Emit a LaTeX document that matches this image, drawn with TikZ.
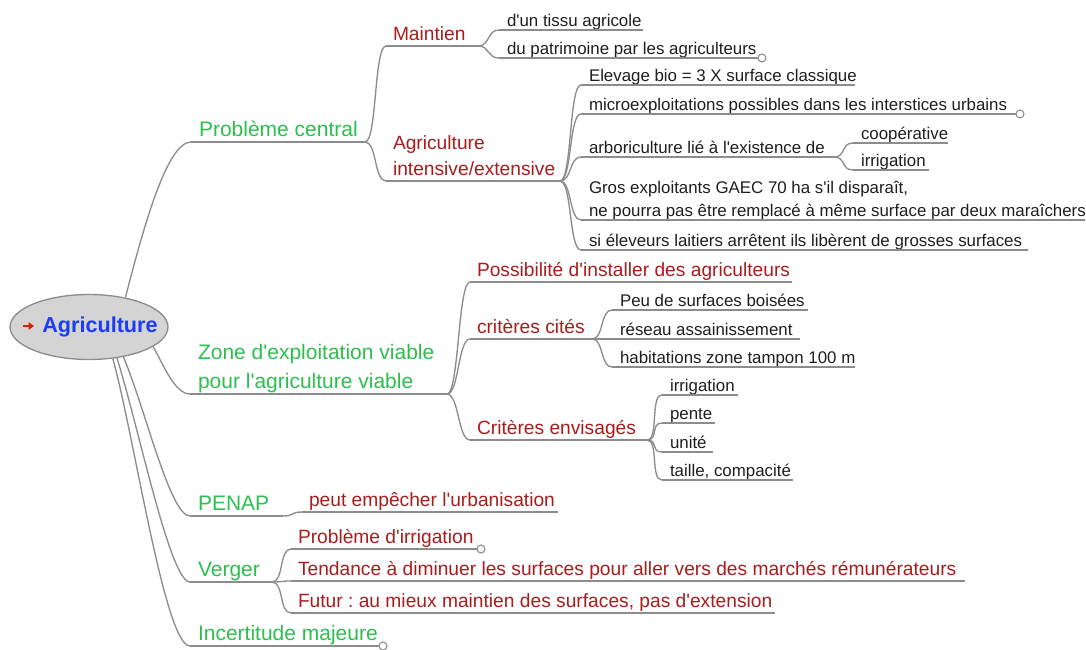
\documentclass[tikz,border=0pt]{standalone}
\usepackage{fontspec}
\setmainfont{Liberation Sans}[Ligatures=TeXOff]
\frenchspacing
\usepackage{xcolor}
\definecolor{topicgreen}{HTML}{2DBE4E}
\definecolor{subred}{HTML}{A81C1C}
\definecolor{rootblue}{HTML}{1C3CF5}
\definecolor{iconred}{HTML}{D81E05}
\definecolor{wiregrey}{HTML}{8C8C8C}
\definecolor{rootfill}{HTML}{D4D4D4}
\definecolor{leafink}{HTML}{1E1E1E}
\usepackage{tikz}
\usetikzlibrary{arrows.meta,shapes.geometric}

\begin{document}
\begin{tikzpicture}[
  x=0.75pt, y=-0.75pt,
  topic/.style={anchor=south west, inner xsep=6pt, inner ysep=4.5pt, outer sep=0pt,
    text depth=0pt, align=left, text=topicgreen, font=\fontsize{15.75}{21.75}\selectfont},
  sub/.style={anchor=south west, inner xsep=5.25pt, inner ysep=3.9pt, outer sep=0pt,
    text depth=0pt, align=left, text=subred, font=\fontsize{14.4}{19.5}\selectfont},
  leaf/.style={anchor=south west, inner xsep=6pt, inner ysep=2.6pt, outer sep=0pt,
    text depth=0pt, align=left, text=leafink, font=\fontsize{12.65}{17.25}\selectfont},
  wire/.style={draw=wiregrey, line width=1pt},
  link/.style={wire, to path={.. controls +(12,0) and +(-12,0) .. (\tikztotarget)}},
  fold/.style={draw=wiregrey, fill=white, line width=0.8pt}
]
\useasboundingbox (0,0) rectangle (1086,650);

% Root
\node[ellipse, draw=wiregrey, fill=rootfill, line width=1pt, inner sep=0pt,
      minimum width=118.5pt, minimum height=48.75pt] (root) at (89,327) {};
\node[text=rootblue, font=\fontsize{16.2}{20}\selectfont\bfseries] (roottxt) at (100,327) {Agriculture};
\draw[iconred, line width=1.4pt, -{Triangle[length=4pt,width=5.5pt]}] (23,326) -- (34,326);

% First level
\node[topic] (pc) at (191,142) {Problème central};
\draw[wire] (pc.south west) -- ++(174,0) coordinate (pc-r);
\node[topic] (zone) at (190,394) {Zone d'exploitation viable\\pour l'agriculture viable};
\draw[wire] (zone.south west) -- ++(257,0) coordinate (zone-r);
\node[topic] (penap) at (190,516) {PENAP};
\draw[wire] (penap.south west) -- ++(93,0) coordinate (penap-r);
\node[topic] (verger) at (190,582) {Verger};
\draw[wire] (verger.south west) -- ++(82,0) coordinate (verger-r);
\node[topic] (incert) at (190,646) {Incertitude majeure};
\draw[wire] (incert.south west) -- ++(189,0) coordinate (incert-r);

\draw[wire] (root.39) .. controls +(18,-70) and +(-24,0) .. (pc.south west);
\draw[wire] (root.-17) .. controls +(10,18) and +(-15,0) .. (zone.south west);
\draw[wire] (root.-41) .. controls +(22,52) and +(-20,0) .. (penap.south west);
\draw[wire] (root.-48) .. controls +(22,70) and +(-20,0) .. (verger.south west);
\draw[wire] (root.-53) .. controls +(22,80) and +(-25,0) .. (incert.south west);

% Problème central
\node[sub] (maint) at (386,46) {Maintien};
\draw[wire] (maint.south west) -- ++(92,0) coordinate (maint-r);
\node[sub] (agint) at (386,181) {Agriculture\\intensive/extensive};
\draw[wire] (agint.south west) -- ++(174,0) coordinate (agint-r);
\foreach \c in {maint,agint} \draw[link] (pc-r) to (\c.south west);

\node[leaf] (tissu) at (499,30) {d'un tissu agricole};
\draw[wire] (tissu.south west) -- ++(144,0);
\node[leaf] (patri) at (499,58) {du patrimoine par les agriculteurs};
\draw[wire] (patri.south west) -- ++(259,0) coordinate (patri-r);
\foreach \c in {tissu,patri} \draw[link] (maint-r) to (\c.south west);

\node[leaf] (elev) at (581,85) {Elevage bio = 3 X surface classique};
\draw[wire] (elev.south west) -- ++(274,0);
\node[leaf] (micro) at (581,114) {microexploitations possibles dans les interstices urbains};
\draw[wire] (micro.south west) -- ++(435,0) coordinate (micro-r);
\node[leaf] (arbor) at (581,157) {arboriculture lié à l'existence de};
\draw[wire] (arbor.south west) -- ++(253,0) coordinate (arbor-r);
\node[leaf] (gros) at (581,220) {Gros exploitants GAEC 70 ha s'il disparaît,\\ne pourra pas être remplacé à même surface par deux maraîchers};
\draw[wire] (gros.south west) -- ++(504,0);
\node[leaf] (sielev) at (581,250) {si éleveurs laitiers arrêtent ils libèrent de grosses surfaces};
\draw[wire] (sielev.south west) -- ++(447,0);
\foreach \c in {elev,micro,arbor,gros,sielev} \draw[link] (agint-r) to (\c.south west);

\node[leaf] (coop) at (853,143) {coopérative};
\draw[wire] (coop.south west) -- ++(95,0);
\node[leaf] (irrig) at (853,170) {irrigation};
\draw[wire] (irrig.south west) -- ++(76,0);
\foreach \c in {coop,irrig} \draw[link] (arbor-r) to (\c.south west);

% Zone d'exploitation
\node[sub] (poss) at (470,282) {Possibilité d'installer des agriculteurs};
\draw[wire] (poss.south west) -- ++(322,0);
\node[sub] (crcit) at (470,339) {critères cités};
\draw[wire] (crcit.south west) -- ++(122,0) coordinate (crcit-r);
\node[sub] (crenv) at (470,440) {Critères envisagés};
\draw[wire] (crenv.south west) -- ++(177,0) coordinate (crenv-r);
\foreach \c in {poss,crcit,crenv} \draw[link] (zone-r) to (\c.south west);

\node[leaf] (peu) at (612,310) {Peu de surfaces boisées};
\draw[wire] (peu.south west) -- ++(196,0);
\node[leaf] (reseau) at (612,339) {réseau assainissement};
\draw[wire] (reseau.south west) -- ++(188,0);
\node[leaf] (habit) at (612,367) {habitations zone tampon 100 m};
\draw[wire] (habit.south west) -- ++(243,0);
\foreach \c in {peu,reseau,habit} \draw[link] (crcit-r) to (\c.south west);

\node[leaf] (irrenv) at (662,395) {irrigation};
\draw[wire] (irrenv.south west) -- ++(76,0);
\node[leaf] (pente) at (662,423) {pente};
\draw[wire] (pente.south west) -- ++(53,0);
\node[leaf] (unite) at (662,452) {unité};
\draw[wire] (unite.south west) -- ++(51,0);
\node[leaf] (taille) at (662,480) {taille, compacité};
\draw[wire] (taille.south west) -- ++(131,0);
\foreach \c in {irrenv,pente,unite,taille} \draw[link] (crenv-r) to (\c.south west);

% PENAP, Verger
\node[sub] (peut) at (302,512) {peut empêcher l'urbanisation};
\draw[wire] (peut.south west) -- ++(256,0);
\draw[link] (penap-r) to (peut.south west);

\node[sub] (probirr) at (291,549) {Problème d'irrigation};
\draw[wire] (probirr.south west) -- ++(186,0) coordinate (probirr-r);
\node[sub] (tend) at (291,581) {Tendance à diminuer les surfaces pour aller vers des marchés rémunérateurs};
\draw[wire] (tend.south west) -- ++(674,0);
\node[sub] (futur) at (291,613) {Futur : au mieux maintien des surfaces, pas d'extension};
\draw[wire] (futur.south west) -- ++(484,0);
\foreach \c in {probirr,tend,futur} \draw[link] (verger-r) to (\c.south west);

% folded branches
\foreach \c in {patri-r,micro-r,probirr-r,incert-r} \draw[fold] (\c) ++(4,0) circle[radius=3pt];

\end{tikzpicture}
\end{document}
